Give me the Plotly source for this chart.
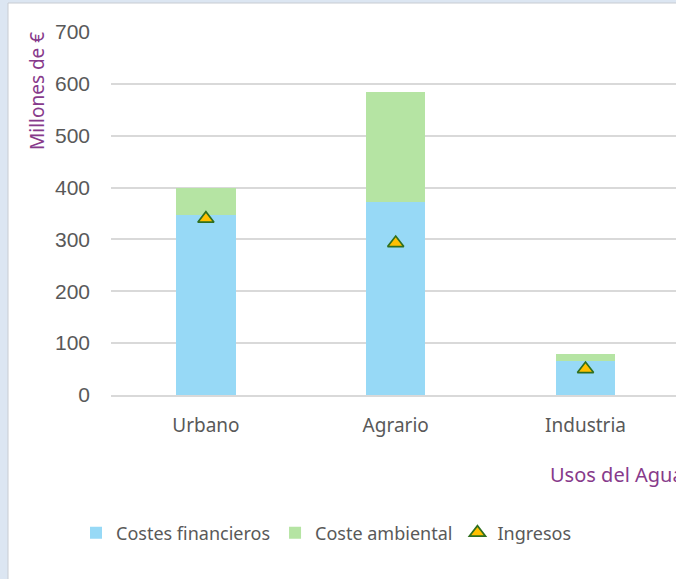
import plotly.graph_objects as go

categories = ["Urbano", "Agrario", "Industria"]
costes_financieros = [347, 373, 66]
coste_ambiental = [53, 211, 13]
ingresos = [340, 293, 50]
y_ticks = [0, 100, 200, 300, 400, 500, 600, 700]

W, H = 676, 579
L, T, B = 111, 32, 184
plot_w = W - L
plot_h = H - T - B

def px_x(p):
    return (p - L) / plot_w

def px_y(p):
    return (H - B - p) / plot_h

purple = "#873a8b"
gray = "#595959"
txt_font = "Noto Sans"

fig = go.Figure()
fig.add_trace(go.Bar(x=categories, y=costes_financieros, name="Costes financieros",
                     marker=dict(color="#97d9f6", line=dict(width=0)), width=0.3125))
fig.add_trace(go.Bar(x=categories, y=coste_ambiental, name="Coste ambiental",
                     marker=dict(color="#b5e4a3", line=dict(width=0)), width=0.3125))
fig.add_trace(go.Scatter(x=categories, y=ingresos, name="Ingresos", mode="markers",
                         marker=dict(symbol="triangle-up", size=14, color="#ffc000",
                                     line=dict(color="#2f6f1f", width=1.7))))

fig.update_layout(
    width=W, height=H,
    margin=dict(l=L, r=0, t=T, b=B, pad=0),
    barmode="stack",
    paper_bgcolor="#dce6f2",
    plot_bgcolor="rgba(0,0,0,0)",
    showlegend=True,
    legend=dict(orientation="h", x=px_x(76), xanchor="left", y=px_y(533), yanchor="middle",
                font=dict(family=txt_font, size=18, color=gray), bgcolor="rgba(0,0,0,0)",
                traceorder="normal", itemwidth=30),
    xaxis=dict(type="category", range=[-0.5, 2.5 - (L + 3 * 189.8 - W) / 189.8],
               showgrid=False, showline=True, linecolor="#d9d9d9", linewidth=1.5,
               ticks="", tickfont=dict(family=txt_font, size=19, color=gray),
               ticklabelstandoff=12, fixedrange=True),
    yaxis=dict(range=[0, 700], tickvals=y_ticks, showgrid=True, gridcolor="#d9d9d9",
               gridwidth=1.5, zeroline=False, showline=False, ticks="",
               tickfont=dict(family="Liberation Sans", size=21, color=gray),
               ticklabelstandoff=20, fixedrange=True),
    shapes=[dict(type="rect", xref="paper", yref="paper", layer="below",
                 x0=px_x(8), x1=px_x(W + 10), y0=px_y(H + 10), y1=px_y(3),
                 fillcolor="white", line=dict(color="#c8ccd2", width=1))],
    annotations=[
        dict(text="Millones de €", xref="paper", yref="paper", x=px_x(37), y=px_y(91),
             xanchor="center", yanchor="middle", textangle=-90, showarrow=False,
             font=dict(family=txt_font, size=19, color=purple)),
        dict(text="Usos del Agua", xref="paper", yref="paper", x=px_x(548), y=px_y(474),
             xanchor="left", yanchor="middle", showarrow=False,
             font=dict(family=txt_font, size=20, color=purple)),
    ],
)

fig.write_html("out.html", config={"displayModeBar": False},
               post_script="document.body.style.margin='0px';document.body.style.overflow='hidden';")
